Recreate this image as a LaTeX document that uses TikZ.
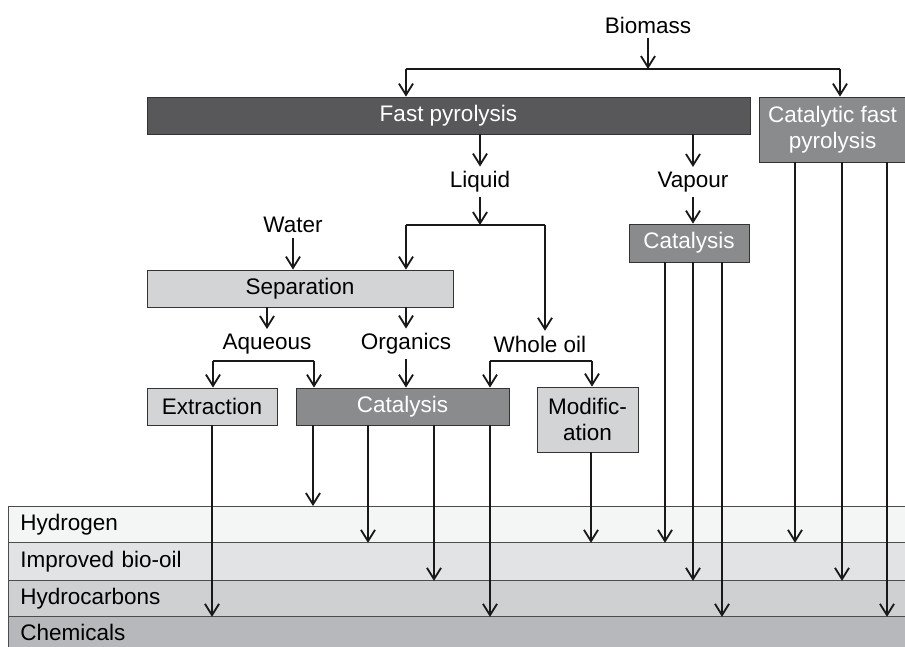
\documentclass[tikz,border=0pt]{standalone}
\usepackage{fontspec}
\setmainfont{Liberation Sans}
\usepackage{tikz}
\usepackage{xcolor}
\usetikzlibrary{arrows.meta}
\definecolor{pyrodark}{HTML}{58585A}
\definecolor{catgray}{HTML}{8A8B8D}
\definecolor{sepgray}{HTML}{D3D4D6}
\definecolor{bandA}{HTML}{F4F5F5}
\definecolor{bandB}{HTML}{E2E3E5}
\definecolor{bandC}{HTML}{CFD0D2}
\definecolor{bandD}{HTML}{B7B8BB}

\begin{document}
\begin{tikzpicture}[x=0.025cm,y=-0.025cm,>={Straight Barb[length=8pt,width=10pt]},
every node/.style={font=\fontsize{16}{18.5}\selectfont},
flow/.style={->,line width=1.3pt,black!90},
proc/.style={draw=black!80,line width=0.6pt,inner sep=0pt,align=center},
band/.style={draw=black!70,line width=0.6pt,anchor=north west,text width=21.825cm,inner xsep=0.3cm,inner ysep=0pt,align=left}]
\useasboundingbox (0,0) rectangle (905,646);
% product bands
\node[band,fill=bandA,minimum height=0.9cm](hyd) at (8,506){Hydrogen};
\node[band,fill=bandB,minimum height=0.95cm](imp) at (8,542){Improved bio-oil};
\node[band,fill=bandC,minimum height=0.9cm](hc) at (8,580){Hydrocarbons};
\node[band,fill=bandD,minimum height=0.8cm](chem) at (8,616){Chemicals};
% process boxes
\node[proc,fill=pyrodark,text=white,minimum width=15.075cm,minimum height=0.925cm](fastpyr) at (448.5,115.5){Fast pyrolysis};
\node[proc,fill=catgray,text=white,minimum width=3.675cm,minimum height=1.625cm](catfast) at (832.5,129.5){Catalytic fast\\pyrolysis};
\node[proc,fill=catgray,text=white,minimum width=3cm,minimum height=0.95cm](vcat) at (689,243){Catalysis};
\node[proc,fill=sepgray,minimum width=7.65cm,minimum height=0.925cm](sep) at (300,288.5){Separation};
\node[proc,fill=sepgray,minimum width=3.25cm,minimum height=0.925cm](extr) at (212,406.5){Extraction};
\node[proc,fill=catgray,text=white,minimum width=5.325cm,minimum height=0.925cm](lcat) at (402.5,406.5){Catalysis};
\node[proc,fill=sepgray,minimum width=2.525cm,minimum height=1.625cm](modif) at (587.5,419.5){Modific-\\ation};
% stream labels
\node(biomass) at (648,25){Biomass};
\node(liquid) at (480,182){Liquid};
\node(vapour) at (693,182){Vapour};
\node(water) at (293,225){Water};
\node(aqueous) at (267,344){Aqueous};
\node(organics) at (406,344){Organics};
\node(wholeoil) at (540,344){Whole oil};
% junctions
\coordinate (bj) at (648,69);
\coordinate (bjl) at (406,69);
\coordinate (bjr) at (840,69);
\coordinate (lj) at (480,225);
\coordinate (ljl) at (406,225);
\coordinate (ljr) at (545,225);
\coordinate (aql) at (213,361);
\coordinate (aqr) at (314,361);
\coordinate (wol) at (490,361);
\coordinate (wor) at (592,361);
% upper flows
\draw[flow](biomass)--(bj);
\draw[line width=1.3pt,black!90](bjl)--(bjr);
\draw[flow](bjl)--(bjl |- fastpyr.north);
\draw[flow](bjr)--(bjr |- catfast.north);
\draw[flow](fastpyr.south -| liquid)--(liquid);
\draw[flow](fastpyr.south -| vapour)--(vapour);
\draw[flow](vapour)--(vapour |- vcat.north);
\draw[flow](liquid)--(lj);
\draw[line width=1.3pt,black!90](ljl)--(ljr);
\draw[flow](ljl)--(ljl |- sep.north);
\draw[flow](ljr)--(ljr |- wholeoil.north);
\draw[flow](water)--(water |- sep.north);
\draw[flow](sep.south -| aqueous)--(aqueous);
\draw[flow](sep.south -| organics)--(organics);
\draw[line width=1.3pt,black!90](aql)--(aqr);
\draw[flow](aql)--(aql |- extr.north);
\draw[flow](aqr)--(aqr |- lcat.north);
\draw[flow](organics)--(organics |- lcat.north);
\draw[line width=1.3pt,black!90](wol)--(wor);
\draw[flow](wol)--(wol |- lcat.north);
\draw[flow](wor)--(wor |- modif.north);
% flows to products
\draw[flow](extr.south -| 212,0)--(hc.south -| 212,0);
\draw[flow](lcat.south -| 313,0)--(hyd.north -| 313,0);
\draw[flow](lcat.south -| 368,0)--(hyd.south -| 368,0);
\draw[flow](lcat.south -| 434,0)--(imp.south -| 434,0);
\draw[flow](lcat.south -| 490,0)--(hc.south -| 490,0);
\draw[flow](modif.south -| 591,0)--(hyd.south -| 591,0);
\draw[flow](vcat.south -| 665,0)--(hyd.south -| 665,0);
\draw[flow](vcat.south -| 693,0)--(imp.south -| 693,0);
\draw[flow](vcat.south -| 722,0)--(hc.south -| 722,0);
\draw[flow](catfast.south -| 795,0)--(hyd.south -| 795,0);
\draw[flow](catfast.south -| 842,0)--(imp.south -| 842,0);
\draw[flow](catfast.south -| 887,0)--(hc.south -| 887,0);
\end{tikzpicture}
\end{document}
